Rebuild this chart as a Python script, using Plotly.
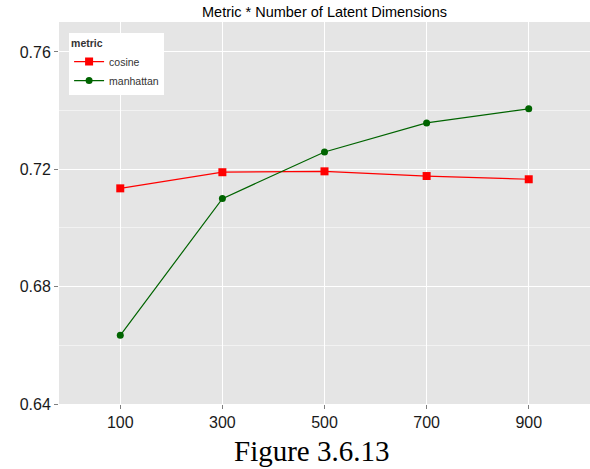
import plotly.graph_objects as go

# Number of latent dimensions and mean score per distance metric
dimensions = [100, 300, 500, 700, 900]
cosine = [0.7135, 0.7190, 0.7193, 0.7177, 0.7166]
manhattan = [0.6634, 0.7100, 0.7259, 0.7358, 0.7406]
y_ticks = [0.64, 0.68, 0.72, 0.76]

SANS = "Liberation Sans"

fig = go.Figure()
fig.add_trace(go.Scatter(
    x=dimensions, y=cosine, name="cosine", mode="lines+markers",
    line=dict(color="#ff0000", width=1.2),
    marker=dict(symbol="square", size=8, color="#ff0000"),
))
fig.add_trace(go.Scatter(
    x=dimensions, y=manhattan, name="manhattan", mode="lines+markers",
    line=dict(color="#006400", width=1.2),
    marker=dict(symbol="circle", size=7, color="#006400"),
))

fig.update_layout(
    width=590, height=469,
    margin=dict(l=59, r=0, t=22, b=65),
    paper_bgcolor="white",
    plot_bgcolor="#e5e5e5",
    font=dict(family=SANS, color="#1a1a1a"),
    title=dict(text="Metric * Number of Latent Dimensions", x=0.55, xanchor="center",
               y=0.975, yanchor="middle", font=dict(family=SANS, size=14.5, color="#000000")),
    legend=dict(
        x=0.019, y=0.97, xanchor="left", yanchor="top",
        bgcolor="white", borderwidth=0,
        title=dict(text="<b>metric</b>", font=dict(family=SANS, size=10.5)),
        font=dict(family=SANS, size=10.5, color="#333333"),
        tracegroupgap=0, itemwidth=30,
    ),
    showlegend=True,
)

fig.update_xaxes(
    range=[-20, 1020], tickvals=dimensions,
    showgrid=True, gridcolor="white", gridwidth=1.2,
    ticks="outside", ticklen=4, tickcolor="#7f7f7f",
    tickfont=dict(family=SANS, size=16, color="#1a1a1a"),
    zeroline=False, showline=False,
)
fig.update_yaxes(
    range=[0.64, 0.7702], tickvals=y_ticks, tickformat=".2f",
    showgrid=True, gridcolor="white", gridwidth=1.2,
    minor=dict(tickvals=[0.66, 0.70, 0.74], showgrid=True, gridcolor="#f2f2f2", gridwidth=0.6),
    ticks="outside", ticklen=4, tickcolor="#7f7f7f",
    tickfont=dict(family=SANS, size=16, color="#1a1a1a"),
    zeroline=False, showline=False,
)

# figure caption below the axis
fig.add_annotation(
    text="Figure 3.6.13", xref="paper", yref="paper",
    x=0.476, y=-0.122, xanchor="center", yanchor="middle", showarrow=False,
    font=dict(family="Liberation Serif", size=29, color="#000000"),
)

fig.write_html("out.html")
